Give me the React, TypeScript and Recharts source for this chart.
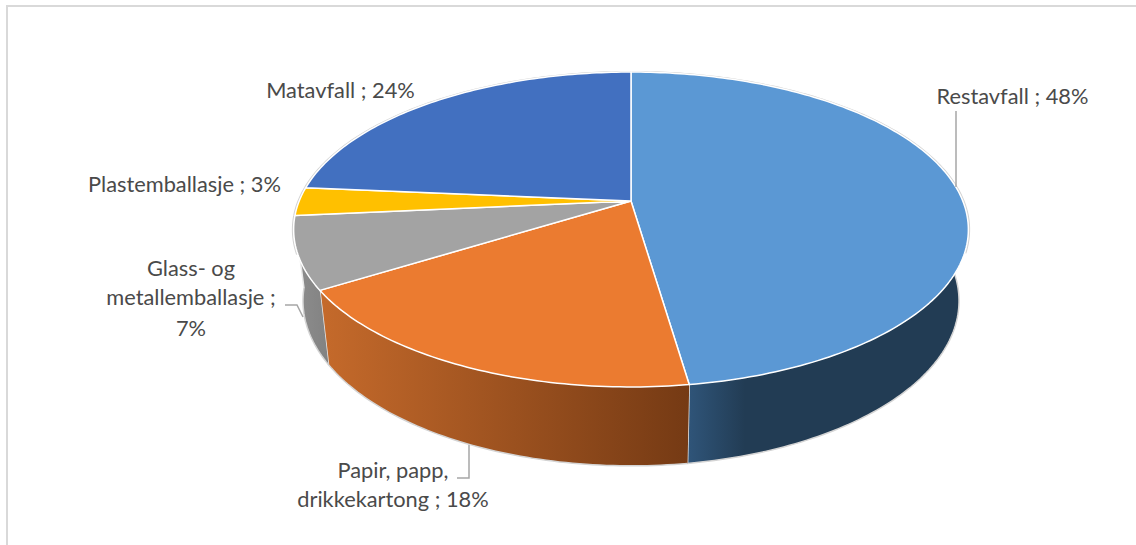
import { PieChart, Pie } from "recharts";

const categories = ["Restavfall", "Papir, papp, drikkekartong", "Glass- og metallemballasje", "Plastemballasje", "Matavfall"];
const shares = [47.7, 18.4, 7.4, 2.9, 23.6];
const faceColors = ["#5B98D4", "#EB7B30", "#A3A3A3", "#FFC000", "#4270C0"];
const wallFrom = ["#2F5478", "#C56A2B", "#8E8E8E", "#997300", "#294579"];
const wallTo = ["#223C54", "#753A14", "#828282", "#997300", "#294579"];

const tableData = categories.map((name, i) => ({ name, value: shares[i], fill: faceColors[i] }));

// perspective of the tilted disc
const DEPTH = 0.181;
const TOP_FLATTEN = 0.459;
const BOTTOM_FLATTEN = 0.4947;
const WALL_START = 0;
const WALL_END = -174;

const TOP_CX = 631;
const TOP_CY = 201;
const TOP_R = 331.8;

const FONT = "Lato, 'Open Sans', sans-serif";
const TEXT_COLOR = "#4A4A4A";
const LEADER_COLOR = "#A6A6A6";

// label placement, one entry per category
const labelBoxes = [
  { x: 1012.5, lines: [104], text: (p: string) => [`Restavfall ; ${p}`], leader: "956,111 956,187" },
  { x: 393, lines: [478, 507], text: (p: string) => ["Papir, papp,", `drikkekartong ; ${p}`], leader: "469,445 469,478 457,478" },
  { x: 191, lines: [276, 305, 336], text: (p: string) => ["Glass- og", "metallemballasje ;", p], leader: "285,305 297,305 303,317" },
  { x: 184.5, lines: [192], text: (p: string) => [`Plastemballasje ; ${p}`], leader: "" },
  { x: 340.5, lines: [98], text: (p: string) => [`Matavfall ; ${p}`], leader: "" },
];

function project(cx: number, cy: number, r: number, flatten: number, angle: number) {
  const a = (angle * Math.PI) / 180;
  const den = 1 + DEPTH * Math.sin(a);
  return [cx + (r * Math.cos(a)) / den, cy - (r * flatten * Math.sin(a)) / den];
}

function arcPoints(cx: number, cy: number, r: number, flatten: number, from: number, to: number) {
  const n = Math.max(2, Math.ceil(Math.abs(to - from)));
  const pts: number[][] = [];
  for (let i = 0; i <= n; i++) pts.push(project(cx, cy, r, flatten, from + ((to - from) * i) / n));
  return pts;
}

const toPath = (pts: number[][]) => pts.map((p, i) => `${i ? "L" : "M"}${p[0].toFixed(2)} ${p[1].toFixed(2)}`).join("");

function TopFace(props: any) {
  const { cx, cy, outerRadius, startAngle, endAngle, fill } = props;
  const arc = arcPoints(cx, cy, outerRadius, TOP_FLATTEN, startAngle, endAngle);
  // grey rim only on the part of the edge with no wall below it
  const upper = arcPoints(cx, cy, outerRadius + 1, TOP_FLATTEN, startAngle, endAngle).filter((p) => p[1] < cy + 54);
  return (
    <g>
      {upper.length > 1 && <path d={toPath(upper)} fill="none" stroke="#D2D2D2" strokeWidth={1.5} />}
      <path d={`M${cx} ${cy}${toPath(arc).replace("M", "L")}Z`} fill={fill} stroke="#FFFFFF" strokeWidth={1.5} strokeLinejoin="round" />
    </g>
  );
}

function SideWall(props: any) {
  const { cx, cy, outerRadius, startAngle, endAngle, index } = props;
  const hi = Math.min(startAngle, WALL_START);
  const lo = Math.max(endAngle, WALL_END);
  if (hi <= lo) return null;

  const upper = arcPoints(TOP_CX, TOP_CY, TOP_R, TOP_FLATTEN, hi, lo);
  const lower = arcPoints(cx, cy, outerRadius, BOTTOM_FLATTEN, hi, lo);

  // one quad per step, so the union also fills the silhouette between both rims
  const strip = upper.slice(1).map((p, i) => `${toPath([upper[i], p, lower[i + 1], lower[i]])}Z`).join("");
  const xs = [...upper, ...lower].map((p) => p[0]);
  const id = `wall-${index}`;
  const wallSpan = index === 0 ? [690, 745] : [Math.min(...xs), Math.max(...xs)];

  return (
    <g>
      <defs>
        <linearGradient id={id} gradientUnits="userSpaceOnUse" x1={wallSpan[0]} x2={wallSpan[1]} y1={0} y2={0}>
          <stop offset="0" stopColor={wallFrom[index]} />
          <stop offset="1" stopColor={wallTo[index]} />
        </linearGradient>
      </defs>
      <path d={strip} fill={`url(#${id})`} stroke="none" />
      <path d={toPath(lower)} fill="none" stroke="#D4D4D4" strokeWidth={1.5} />
      <path d={toPath([upper[upper.length - 1], lower[lower.length - 1]])} fill="none" stroke="#E8E8E8" strokeWidth={1.5} />
    </g>
  );
}

function renderLabel(props: any) {
  const box = labelBoxes[props.index];
  const pct = `${Math.round(props.value)}%`;
  const rows = box.text(pct);
  return (
    <g key={props.index}>
      {box.leader && <polyline points={box.leader} fill="none" stroke={LEADER_COLOR} strokeWidth={1.5} />}
      {rows.map((row, i) => (
        <text key={row} x={box.x} y={box.lines[i]} textAnchor="middle" fontFamily={FONT} fontSize={21.8} fill={TEXT_COLOR}>
          {row}
        </text>
      ))}
    </g>
  );
}

export default function App() {
  return (
    <div style={{ position: "absolute", left: 0, top: 0, width: 1136, height: 545, background: "#fff", overflow: "hidden" }}>
      <div style={{ position: "absolute", left: 6, top: 5, width: 1130, height: 540, borderTop: "2px solid #D9D9D9", borderLeft: "2px solid #D9D9D9" }} />
      <PieChart width={1136} height={545} margin={{ top: 0, right: 0, bottom: 0, left: 0 }} style={{ position: "absolute", left: 0, top: 0 }}>
        <Pie
          data={tableData}
          dataKey="value"
          nameKey="name"
          cx={631}
          cy={271}
          outerRadius={322.6}
          startAngle={90}
          endAngle={-270}
          stroke="none"
          shape={SideWall}
          label={false}
          labelLine={false}
          isAnimationActive={false}
        />
        <Pie
          data={tableData}
          dataKey="value"
          nameKey="name"
          cx={TOP_CX}
          cy={TOP_CY}
          outerRadius={TOP_R}
          startAngle={90}
          endAngle={-270}
          stroke="none"
          shape={TopFace}
          label={renderLabel}
          labelLine={false}
          isAnimationActive={false}
        />
      </PieChart>
    </div>
  );
}
